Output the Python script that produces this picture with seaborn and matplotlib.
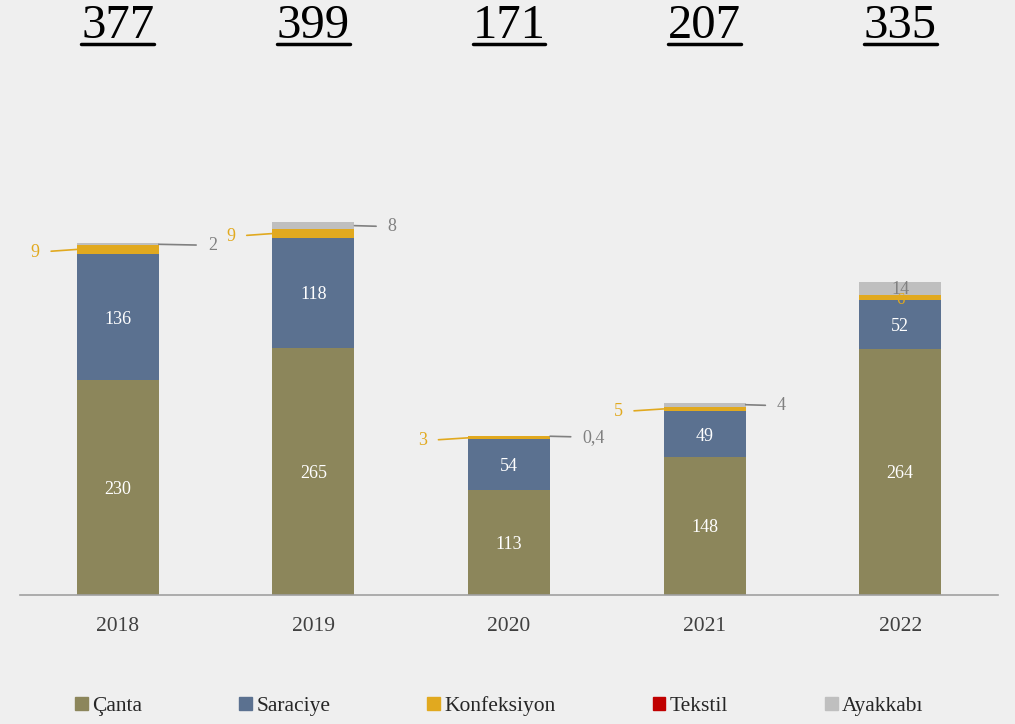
import matplotlib
matplotlib.use("Agg")
import matplotlib.pyplot as plt
from matplotlib.lines import Line2D
from matplotlib.patches import Patch
import seaborn as sns
import numpy as np
import pandas as pd

years = ["2018", "2019", "2020", "2021", "2022"]
canta = [230, 265, 113, 148, 264]
saraciye = [136, 118, 54, 49, 52]
konfeksiyon = [9, 9, 3, 5, 6]
tekstil = [0, 0, 0, 0, 0]
ayakkabi = [2, 8, 0.4, 4, 14]
totals = ["377", "399", "171", "207", "335"]
ayakkabi_labels = ["2", "8", "0,4", "4", "14"]
konf_labels = ["9", "9", "3", "5", "6"]

series_names = ["Çanta", "Saraciye", "Konfeksiyon", "Tekstil", "Ayakkabı"]
series_vals = [canta, saraciye, konfeksiyon, tekstil, ayakkabi]
colors = ["#8C865B", "#5B7190", "#E1A91F", "#C00000", "#BFBFBF"]

BG = "#EFEFEF"
sns.set_theme(style="white")
plt.rcParams["font.family"] = ["Liberation Serif", "DejaVu Serif"]

fig = plt.figure(figsize=(10.15, 7.24), dpi=100, facecolor=BG)
ax = fig.add_axes([20 / 1015, 129 / 724, 978 / 1015, 513 / 724], facecolor=BG)

df = pd.DataFrame({"year": years})
bottom = np.zeros(len(years))
W = 0.42
for name, vals, col in zip(series_names, series_vals, colors):
    df[name] = vals
    sns.barplot(data=df, x="year", y=name, color=col, width=W, bottom=bottom,
                ax=ax, edgecolor=col, linewidth=0, saturation=1)
    bottom = bottom + np.array(vals, dtype=float)

ax.set_ylim(0, 550)
ax.set_xlim(-0.5, 4.5)
for s in ["top", "left", "right"]:
    ax.spines[s].set_visible(False)
ax.spines["bottom"].set_color("#A0A0A0")
ax.spines["bottom"].set_linewidth(1.2)
ax.set_yticks([])
ax.set_xlabel("")
ax.set_ylabel("")
ax.tick_params(axis="x", length=0, pad=16, labelsize=15.5, labelcolor="#404040")

# inside labels
c = np.array(canta, float)
s = np.array(saraciye, float)
k = np.array(konfeksiyon, float)
a = np.array(ayakkabi, float)
for i in range(len(years)):
    ax.text(i, c[i] / 2, str(canta[i]), ha="center", va="center_baseline", color="white", fontsize=13)
    ax.text(i, c[i] + s[i] / 2, str(saraciye[i]), ha="center", va="center_baseline", color="white", fontsize=13)

gold = "#E1A91F"
grey = "#808080"
konf_text_x = [-0.40, -0.40, -0.42, -0.42]
ayak_text_x = [0.46, 0.38, 0.375, 0.37]
for i in range(4):
    yk = c[i] + s[i] + k[i] / 2
    ya = c[i] + s[i] + k[i] + tekstil[i] + a[i] / 2
    ax.annotate(konf_labels[i], xy=(i - W / 2, yk), xytext=(i + konf_text_x[i], yk - 1),
                ha="right", va="center_baseline", color=gold, fontsize=13,
                arrowprops=dict(arrowstyle="-", color=gold, lw=1.2, shrinkA=6, shrinkB=0))
    ax.annotate(ayakkabi_labels[i], xy=(i + W / 2, ya), xytext=(i + ayak_text_x[i], ya + 1),
                ha="left", va="center_baseline", color=grey, fontsize=13,
                arrowprops=dict(arrowstyle="-", color=grey, lw=1.2, shrinkA=6, shrinkB=0))
# 2022 inside labels
i = 4
ax.text(i, c[i] + s[i] + k[i] / 2 - 1, konf_labels[i], ha="center", va="center_baseline", color=gold, fontsize=12)
ax.text(i, c[i] + s[i] + k[i] + a[i] / 2 + 1, ayakkabi_labels[i], ha="center", va="center_baseline", color=grey, fontsize=13)

# totals on top
tot_texts = []
for i, t in enumerate(totals):
    tt = ax.text(i, 0, t, transform=ax.get_xaxis_transform(), fontsize=35, color="black",
                 ha="center", va="center")
    tt.set_y((724 - 26 - 129) / 513)
    tot_texts.append(tt)

handles = [Patch(facecolor=col, edgecolor=col) for col in colors]
fig.legend(handles, series_names, loc="center", bbox_to_anchor=(0.492, (724 - 706) / 724),
           ncol=5, frameon=False, fontsize=15.5, handlelength=0.6, handleheight=0.6,
           handletextpad=0.2, columnspacing=4.5)

fig.canvas.draw()
r = fig.canvas.get_renderer()
for tt in tot_texts:
    bb = tt.get_window_extent(r)
    yline = bb.y0 + 4
    fig.add_artist(Line2D([bb.x0 / 1015, bb.x1 / 1015], [yline / 724, yline / 724],
                          color="black", lw=2.5, transform=fig.transFigure))

fig.savefig("out.png", dpi=100, facecolor=BG)
